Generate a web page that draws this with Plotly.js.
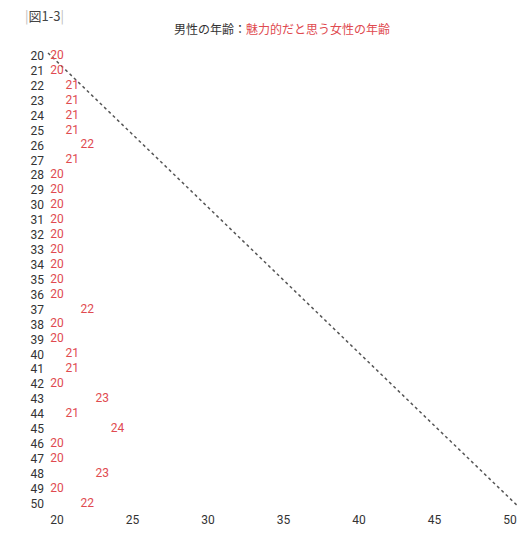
<!DOCTYPE html>
<html>
<head>
<meta charset="utf-8">
<script src="https://cdn.plot.ly/plotly-3.0.1.min.js"></script>
<style>
  html, body { margin: 0; padding: 0; background: #fff; }
  #chart { width: 530px; height: 548px; }
</style>
</head>
<body>
<div id="chart"></div>
<script>
// men's age (rows) and the age of women they find attractive
const menAges = [20, 21, 22, 23, 24, 25, 26, 27, 28, 29, 30, 31, 32, 33, 34, 35,
  36, 37, 38, 39, 40, 41, 42, 43, 44, 45, 46, 47, 48, 49, 50];
const attractiveAges = [20, 20, 21, 21, 21, 21, 22, 21, 20, 20, 20, 20, 20, 20, 20, 20,
  20, 22, 20, 20, 21, 21, 20, 23, 21, 24, 20, 20, 23, 20, 22];

const xTicks = [20, 25, 30, 35, 40, 45, 50];

// reference diagonal (same age)
const diagX = [19.4, 50.45];
const diagY = [19.8, 50.1];

const RED = "#e04a50";
const DARK = "#333333";
const FONT = "'Noto Sans CJK JP', 'Noto Sans', sans-serif";
const NUMFONT = "Roboto, 'Noto Sans', sans-serif";

const traces = [
  {
    x: diagX,
    y: diagY,
    mode: "lines",
    line: { color: "#555555", width: 1.5, dash: "dot" },
    hoverinfo: "skip",
  },
  {
    x: attractiveAges,
    y: menAges,
    mode: "text",
    text: attractiveAges.map(String),
    textposition: "middle center",
    textfont: { family: NUMFONT, size: 12, color: RED },
  },
];

const layout = {
  width: 530,
  height: 548,
  margin: { l: 45, r: 5, t: 41, b: 37 },
  paper_bgcolor: "#fff",
  plot_bgcolor: "#fff",
  showlegend: false,
  font: { family: FONT, size: 12, color: DARK },
  title: {
    text: "男性の年齢：<span style='color:" + RED + "'>魅力的だと思う女性の年齢</span>",
    font: { family: FONT, size: 12, color: DARK },
    x: 0.532,
    xanchor: "center",
    y: 0.945,
    yanchor: "middle",
  },
  xaxis: {
    range: [19.2, 51],
    tickvals: xTicks,
    showgrid: false,
    zeroline: false,
    showline: false,
    ticks: "",
    tickfont: { family: NUMFONT, size: 12, color: DARK },
  },
  yaxis: {
    range: [50.5, 19],
    tickvals: menAges,
    ticktext: menAges.map(String),
    showgrid: false,
    zeroline: false,
    showline: false,
    ticks: "",
    tickfont: { family: NUMFONT, size: 12, color: DARK },
  },
  annotations: [
    {
      text: "<span style='color:#bbb'>|</span>図1-3<span style='color:#bbb'>|</span>",
      xref: "paper",
      yref: "paper",
      x: -0.045,
      y: 1.055,
      xanchor: "left",
      yanchor: "middle",
      showarrow: false,
      font: { family: FONT, size: 13, color: "#444" },
    },
  ],
};

Plotly.newPlot("chart", traces, layout, { displayModeBar: false, staticPlot: true });
</script>
</body>
</html>
